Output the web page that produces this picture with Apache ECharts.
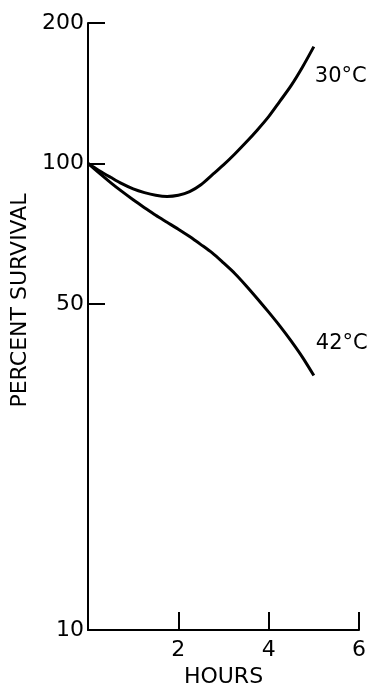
<!DOCTYPE html>
<html>
<head>
<meta charset="utf-8">
<script src="https://cdn.jsdelivr.net/npm/echarts@6/dist/echarts.min.js"></script>
<style>
html,body{margin:0;padding:0;background:#fff;}
#chart{width:372px;height:686px;}
</style>
</head>
<body>
<div id="chart"></div>
<script>
var hours = [0, 0.25, 0.5, 0.75, 1.0, 1.25, 1.5, 1.75, 2.0, 2.25, 2.5, 2.75, 3.0, 3.25, 3.5, 3.75, 4.0, 4.25, 4.5, 4.75, 5.0];
var survival30 = [100, 96.5, 93.4, 90.5, 88.2, 86.6, 85.5, 85.0, 85.5, 87.0, 90.0, 94.5, 99.3, 104.8, 111, 118, 126, 136, 147, 161, 178];
var survival42 = [100, 95.3, 91.0, 87.1, 83.6, 80.4, 77.4, 74.8, 72.3, 69.7, 67.0, 64.3, 61.2, 58.1, 54.7, 51.3, 48.0, 44.8, 41.6, 38.4, 35.1];
var xTickValues = [2, 4, 6];
var yTickValues = [50, 100, 200];
var yLabelValues = [10, 50, 100, 200];
var seriesNames = ['30°C', '42°C'];

function pairs(xs, ys) { return xs.map(function (x, i) { return [x, ys[i]]; }); }

var font = '"DejaVu Sans", Verdana, sans-serif';
var chart = echarts.init(document.getElementById('chart'));
chart.setOption({
  animation: false,
  backgroundColor: '#fff',
  grid: { left: 88, right: 13, top: 23, bottom: 56, outerBoundsMode: 'none', containLabel: false },
  xAxis: {
    type: 'value', min: 0, max: 6, interval: 2,
    name: 'HOURS', nameLocation: 'middle', nameGap: 33,
    nameTextStyle: { color: '#000', fontSize: 22, fontFamily: font },
    axisLine: { show: true, lineStyle: { color: '#000', width: 2 } },
    axisTick: { show: true, inside: true, length: 18, customValues: xTickValues, lineStyle: { color: '#000', width: 2 } },
    axisLabel: { customValues: xTickValues, color: '#000', fontSize: 22, fontFamily: font, margin: 9 },
    splitLine: { show: false }
  },
  yAxis: {
    type: 'log', logBase: 10, min: 10, max: 200,
    name: 'PERCENT SURVIVAL', nameLocation: 'middle', nameGap: 48, nameRotate: 90,
    nameTextStyle: { color: '#000', fontSize: 22, fontFamily: font, padding: [0, 0, 0, 52] },
    axisLine: { show: true, lineStyle: { color: '#000', width: 2 } },
    axisTick: { show: true, inside: true, length: 17, customValues: yTickValues, lineStyle: { color: '#000', width: 2 } },
    axisLabel: { customValues: yLabelValues, color: '#000', fontSize: 22, fontFamily: font, margin: 4 },
    splitLine: { show: false }
  },
  series: [
    {
      name: seriesNames[0], type: 'line', smooth: 0.3, symbol: 'none',
      data: pairs(hours, survival30),
      lineStyle: { color: '#000', width: 3 },
      endLabel: { show: true, formatter: seriesNames[0], color: '#000', fontSize: 21, fontFamily: font, offset: [-7, 30] }
    },
    {
      name: seriesNames[1], type: 'line', smooth: 0.3, symbol: 'none',
      data: pairs(hours, survival42),
      lineStyle: { color: '#000', width: 3 },
      endLabel: { show: true, formatter: seriesNames[1], color: '#000', fontSize: 21, fontFamily: font, offset: [-6, -32] }
    }
  ]
});
</script>
</body>
</html>
